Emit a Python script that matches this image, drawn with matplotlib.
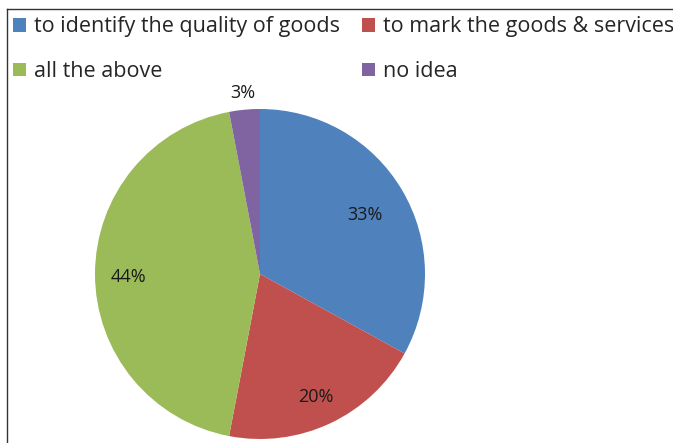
import numpy as np
import matplotlib.pyplot as plt
from matplotlib.lines import Line2D
from matplotlib.patches import Patch

# data
labels = ['to identify the quality of goods', 'to mark the goods & services',
          'all the above', 'no idea']
shares = [33, 20, 44, 3]
colors = ['#4F81BD', '#C0504D', '#9BBB59', '#8064A2']

plt.rcParams['font.family'] = ['Open Sans', 'DejaVu Sans']

fig = plt.figure(figsize=(6.73, 4.43), dpi=100)

# pie centred around (260, 274) px, radius ~165 px
ax = fig.add_axes([95 / 673, 4 / 443, 330 / 673, 330 / 443])
wedges, texts = ax.pie(shares, colors=colors, startangle=90, counterclock=False,
                       radius=1.0, wedgeprops=dict(linewidth=0))
ax.set_xlim(-1, 1)
ax.set_ylim(-1, 1)
ax.set_aspect('equal')

# percent labels, placed at their wedge mid-angles
dist = [0.74, 0.8, 0.8, 1.12]
start = 90.0
for v, d in zip(shares, dist):
    mid = np.deg2rad(start - v * 3.6 / 2)
    start -= v * 3.6
    ax.text(d * np.cos(mid), d * np.sin(mid) - 0.02, f'{v}%', ha='center', va='center',
            fontsize=13, color='#1a1a1a', clip_on=False)

# legend in two columns at the top, filled row by row
order = [0, 2, 1, 3]
handles = [Patch(facecolor=colors[i], edgecolor='none') for i in order]
fig.legend(handles, [labels[i] for i in order], ncol=2, loc='upper left',
           bbox_to_anchor=(-0.009, 1.007), frameon=False, fontsize=15.5,
           handlelength=0.6, handleheight=0.6, handletextpad=0.35,
           columnspacing=1.05, labelspacing=1.1, labelcolor='#262626')

# chart border (top and left edges visible in the crop)
fig.add_artist(Line2D([7 / 673, 1.0], [1 - 9 / 443, 1 - 9 / 443], color='#333333', lw=1))
fig.add_artist(Line2D([7 / 673, 7 / 673], [0, 1 - 9 / 443], color='#333333', lw=1))

fig.savefig('out.png', dpi=100)
